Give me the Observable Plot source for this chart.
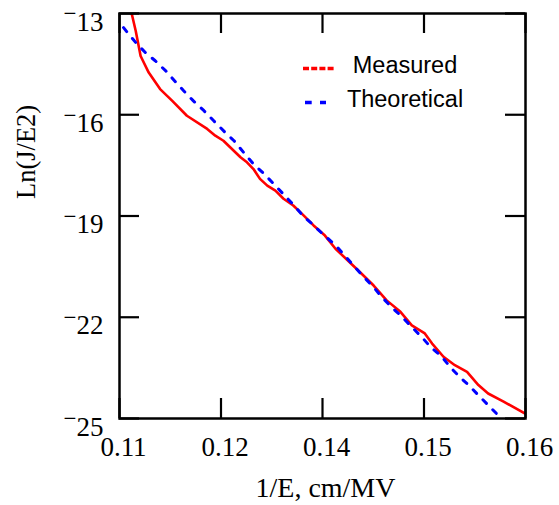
<!DOCTYPE html>
<html>
<head>
<meta charset="utf-8">
<script src="https://cdn.jsdelivr.net/npm/d3@7"></script>
<script src="https://cdn.jsdelivr.net/npm/@observablehq/plot@0.6"></script>
<style>
  html, body { margin: 0; padding: 0; background: #fff; }
  #chart { width: 559px; height: 505px; }
</style>
</head>
<body>
<div id="chart"></div>
<script>
// ---- data ----
const measuredX = [0.1115, 0.1120, 0.1126, 0.1136, 0.1150, 0.1165, 0.1183, 0.1208, 0.1218, 0.1228,
  0.1249, 0.1257, 0.1265, 0.1273, 0.1282, 0.1292, 0.1302, 0.1314, 0.1327, 0.1339,
  0.1353, 0.1366, 0.1396, 0.1413, 0.1429, 0.1446, 0.1460, 0.1476, 0.1485, 0.1499,
  0.1513, 0.1528, 0.1542, 0.1554, 0.1573, 0.1599];
const measuredY = [-13.00, -13.52, -14.26, -14.75, -15.24, -15.59, -16.03, -16.42, -16.62, -16.77,
  -17.26, -17.41, -17.61, -17.90, -18.10, -18.25, -18.49, -18.69, -18.99, -19.28,
  -19.58, -19.97, -20.66, -21.06, -21.50, -21.84, -22.24, -22.48, -22.78, -23.17,
  -23.42, -23.62, -24.01, -24.26, -24.50, -24.85];

const theoreticalX = [0.1105, 0.1110, 0.1120, 0.1132, 0.1144, 0.1157, 0.1168, 0.1179, 0.1191, 0.1204,
  0.1216, 0.1230, 0.1241, 0.1253, 0.1265, 0.1278, 0.1290, 0.1301, 0.1315, 0.1327,
  0.1338, 0.1351, 0.1365, 0.1399, 0.1413, 0.1423, 0.1435, 0.1448, 0.1460, 0.1472,
  0.1483, 0.1497, 0.1507, 0.1519, 0.1530, 0.1542, 0.1556, 0.1569];
const theoreticalY = [-13.42, -13.57, -13.86, -14.16, -14.40, -14.70, -15.00, -15.29, -15.59, -15.88,
  -16.18, -16.52, -16.77, -17.12, -17.46, -17.75, -18.05, -18.33, -18.69, -19.02,
  -19.25, -19.55, -19.84, -20.76, -21.11, -21.40, -21.70, -21.99, -22.29, -22.58,
  -22.88, -23.17, -23.47, -23.77, -24.01, -24.31, -24.65, -24.97];

const xTickPos = [0.11, 0.1225, 0.135, 0.1475, 0.16];
const xTickLabels = ["0.11", "0.12", "0.14", "0.15", "0.16"];
const yTickPos = [-13, -16, -19, -22, -25];
const yTickLabels = ["\u221213", "\u221216", "\u221219", "\u221222", "\u221225"];

const seriesNames = ["Measured", "Theoretical"];
const xTitle = "1/E, cm/MV";
const yTitle = "Ln(J/E2)";

// ---- tables ----
const measured = measuredX.map((x, i) => ({x, y: measuredY[i]}));
const theoretical = theoreticalX.map((x, i) => ({x, y: theoreticalY[i]}));

// ---- layout ----
const W = 559, H = 505;
const mL = 119, mR = 34, mT = 13, mB = 87;
const fw = W - mL - mR, fh = H - mT - mB;
const tickLen = 20;
const serif = "'Liberation Serif', 'Times New Roman', serif";
const sans = "'Liberation Sans', Arial, sans-serif";

const chart = Plot.plot({
  width: W, height: H,
  marginLeft: mL, marginRight: mR, marginTop: mT, marginBottom: mB,
  x: {domain: [0.11, 0.16], axis: null},
  y: {domain: [-25, -13], axis: null},
  style: {background: "white", fontFamily: serif, color: "black"},
  marks: [
    Plot.line(measured, {x: "x", y: "y", stroke: "#ff0000", strokeWidth: 2.6, clip: true}),
    Plot.line(theoretical, {x: "x", y: "y", stroke: "#0000ff", strokeWidth: 3, strokeDasharray: "5,9", clip: true}),
    Plot.tickX(xTickPos, {x: d => d, insetTop: fh - tickLen, stroke: "black", strokeWidth: 2.2}),
    Plot.tickX(xTickPos, {x: d => d, insetBottom: fh - tickLen, stroke: "black", strokeWidth: 2.2}),
    Plot.tickY(yTickPos, {y: d => d, insetRight: fw - tickLen, stroke: "black", strokeWidth: 2.2}),
    Plot.tickY(yTickPos, {y: d => d, insetLeft: fw - tickLen, stroke: "black", strokeWidth: 2.2}),
    Plot.frame({stroke: "black", strokeWidth: 2.5}),
    Plot.text(xTickPos, {x: d => d, text: (d, i) => xTickLabels[i], frameAnchor: "bottom",
      dy: 28.4, dx: 4, fontSize: 27, lineAnchor: "middle", fill: "black"}),
    Plot.text(yTickPos, {y: d => d, text: (d, i) => yTickLabels[i], frameAnchor: "left",
      dx: -16, dy: 7, textAnchor: "end", fontSize: 27, lineAnchor: "middle", fill: "black",
      className: "ytick-labels"}),
    Plot.text([xTitle], {text: d => d, frameAnchor: "bottom", dy: 70, dx: 3, fontSize: 28,
      lineAnchor: "middle", fill: "black"}),
    Plot.text([yTitle], {text: d => d, frameAnchor: "left", dx: -92.5, dy: -17, rotate: -90,
      fontSize: 26.5, lineAnchor: "middle", fill: "black"})
  ]
});

const svg = d3.select(chart);

// raised minus sign as in the reference (text kept as "−NN")
svg.selectAll(".ytick-labels text").each(function() {
  const t = d3.select(this);
  const s = t.text();
  if (s.startsWith("\u2212")) {
    t.text(null);
    t.append("tspan").attr("dy", "-0.34em").attr("font-size", "0.85em").text("\u2212");
    t.append("tspan").attr("dy", "0.34em").text(s.slice(1));
  }
});

// ---- legend (line-style swatches) ----
const lg = svg.append("g").attr("font-family", sans).attr("font-size", 23.5).attr("fill", "black");
const legendItems = [
  {name: seriesNames[0], color: "#ff0000", dash: "6,2.2", x1: 303, x2: 334, ly: 68.5, ty: 73.3},
  {name: seriesNames[1], color: "#0000ff", dash: "6.7,8.3", x1: 305, x2: 326, ly: 102.5, ty: 106.7}
];
legendItems.forEach(it => {
  lg.append("line").attr("x1", it.x1).attr("x2", it.x2).attr("y1", it.ly).attr("y2", it.ly)
    .attr("stroke", it.color).attr("stroke-width", 3.5).attr("stroke-dasharray", it.dash);
  lg.append("text").attr("x", 405).attr("y", it.ty).attr("text-anchor", "middle").text(it.name);
});

document.getElementById("chart").appendChild(chart);
</script>
</body>
</html>
